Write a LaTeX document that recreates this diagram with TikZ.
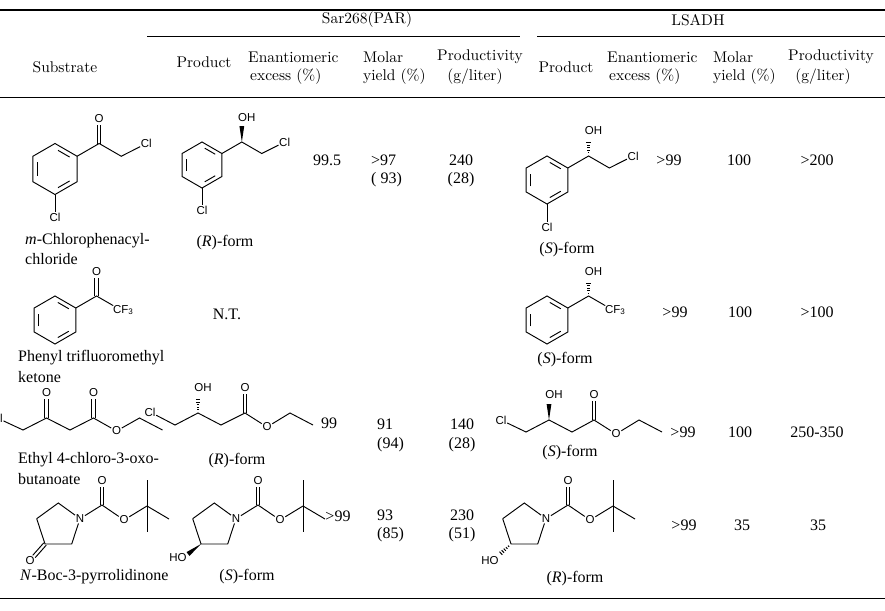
\documentclass[tikz,border=0pt]{standalone}
\usepackage{fontspec}
\newfontfamily\chemf{Liberation Sans}
\newfontfamily\timesf{Liberation Serif}
\newfontfamily\hdf{lmroman10-regular}[Extension=.otf]
\usetikzlibrary{calc}
\newcommand\benz[4]{%
 \coordinate (#1c) at (#2,#3);
 \foreach \i/\a in {1/-90,2/-30,3/30,4/90,5/150,6/210}{\coordinate (#1\i) at ($(#1c)+(\a:#4)$);}
 \draw[bond] (#11)--(#12)--(#13)--(#14)--(#15)--(#16)--cycle;
 \foreach \p/\q in {1/2,3/4,5/6}{%
   \coordinate (bza) at ($(#1\p)!.17!(#1\q)$);
   \coordinate (bzb) at ($(#1\q)!.17!(#1\p)$);
   \draw[bond] ($(bza)!.2!(#1c)$) -- ($(bzb)!.2!(#1c)$);}
}
\newcommand\dblb[2]{%
 \coordinate (dbe) at ($(#2)!6pt!(#1)$);
 \draw[bond] ($(#1)!1.7pt!90:(dbe)$) -- ($(dbe)!1.7pt!-90:(#1)$);
 \draw[bond] ($(#1)!1.7pt!-90:(dbe)$) -- ($(dbe)!1.7pt!90:(#1)$);}
\newcommand\wedgeb[2]{\fill ($(#2)!2.4pt!90:(#1)$) -- (#1) -- ($(#2)!2.4pt!-90:(#1)$) -- cycle;}
\newcommand\hashb[2]{%
 \foreach \t in {0.2,0.36,0.52,0.68,0.84,1.0}{%
   \pgfmathsetmacro\hw{0.4+2.0*\t}
   \coordinate (hbp) at ($(#1)!\t!(#2)$);
   \draw[line width=1pt] ($(hbp)!\hw pt!90:(#2)$) -- ($(hbp)!\hw pt!-90:(#2)$);}}
\tikzset{
 bond/.style={line width=0.95pt},
 atom/.style={font=\chemf\fontsize{11.5}{13}\selectfont, inner sep=0.6pt},
 txt/.style={font=\timesf\fontsize{16}{18}\selectfont, inner sep=0pt},
 hd/.style={font=\hdf\fontsize{15.5}{20}\selectfont, inner sep=0pt},
 rl/.style={line width=1pt},
}
\begin{document}
\begin{tikzpicture}[x=1pt,y=-1pt]
\useasboundingbox[fill=white] (0,0) rectangle (885,610);
% ---------------- header ----------------
\draw[line width=1.2pt] (0,10) -- (885,10);
\node[hd] (hsar) at (367,20) {Sar268(PAR)};
\node[hd] (hls) at (698,20) {LSADH};
\draw[rl] (147,37) -- (520,37);
\draw[rl] (537,37) -- (885,37);
\node[hd] (hsub) at (65,67) {Substrate};
\node[hd] (hp1) at (204,62) {Product};
\node[hd,anchor=west] (he1) at (248,57) {Enantiomeric};
\node[hd,anchor=west] (he1b) at (250,77) {excess (\%)};
\node[hd,anchor=west] (hm1) at (363,57) {Molar};
\node[hd,anchor=west] (hm1b) at (363,77) {yield (\%)};
\node[hd] (hq1) at (480,57) {Productivity};
\node[hd] (hq1b) at (475,77) {(g/liter)};
\node[hd] (hp2) at (566,67) {Product};
\node[hd,anchor=west] (he2) at (607,57) {Enantiomeric};
\node[hd,anchor=west] (he2b) at (609,77) {excess (\%)};
\node[hd,anchor=west] (hm2) at (713,57) {Molar};
\node[hd,anchor=west] (hm2b) at (713,77) {yield (\%)};
\node[hd] (hq2) at (831,57) {Productivity};
\node[hd] (hq2b) at (823,77) {(g/liter)};
\draw[rl] (0,97) -- (885,97);
\draw[rl] (0,598) -- (885,598);
% ---------------- row 1 ----------------
\benz{A}{55}{169}{25.5}
\coordinate (a7) at ($(A2)+(-30:25.5)$);
\coordinate (a8) at ($(a7)+(30:25.5)$);
\node[atom] (aO) at ($(a7)+(0,-25)$) {O};
\node[atom] (aCl) at ($(a8)+(-30:25.5)+(3,0)$) {Cl};
\node[atom] (aCl2) at ($(A4)+(0,23)$) {Cl};
\dblb{a7}{aO}
\draw[bond] (A2) -- (a7) -- (a8) -- (aCl);
\draw[bond] (A4) -- (aCl2);
\node[txt,anchor=west] (t1a) at (25,241) {\textit{m}-Chlorophenacyl-};
\node[txt,anchor=west] (t1b) at (25,259) {chloride};
% Sar product (R)
\benz{B}{202}{165}{23}
\coordinate (b7) at ($(B2)+(-30:23)$);
\coordinate (b8) at ($(b7)+(30:23)$);
\coordinate (bw) at ($(b7)+(0,-16)$);
\node[atom] (bOH) at ($(b7)+(5,-24)$) {OH};
\node[atom] (bCl) at ($(b8)+(-30:23)+(3,0)$) {Cl};
\node[atom] (bCl2) at ($(B4)+(0,22)$) {Cl};
\draw[bond] (B2) -- (b7) -- (b8) -- (bCl);
\draw[bond] (B4) -- (bCl2);
\wedgeb{b7}{bw}
\node[txt] (f1a) at (225,243) {(\textit{R})-form};
% LSADH product (S)
\benz{C}{547}{180}{24}
\coordinate (c7) at ($(C2)+(-30:24)$);
\coordinate (c8) at ($(c7)+(30:24)$);
\coordinate (cw) at ($(c7)+(0,-16)$);
\node[atom] (cOH) at ($(c7)+(5,-25)$) {OH};
\node[atom] (cCl) at ($(c8)+(-30:24)+(3,0)$) {Cl};
\node[atom] (cCl2) at ($(C4)+(0,23)$) {Cl};
\draw[bond] (C2) -- (c7) -- (c8) -- (cCl);
\draw[bond] (C4) -- (cCl2);
\hashb{c7}{cw}
\node[txt] (f1b) at (567,250) {(\textit{S})-form};
% numbers row 1
\node[txt] (n11) at (327,160) {99.5};
\node[txt,anchor=west] (n12) at (371,160) {>97};
\node[txt,anchor=west] (n12b) at (371,180) {( 93)};
\node[txt] (n13) at (461,160) {240};
\node[txt] (n13b) at (461,180) {(28)};
\node[txt] (n14) at (669,160) {>99};
\node[txt] (n15) at (739,160) {100};
\node[txt] (n16) at (817,160) {>200};
% ---------------- row 2 ----------------
\benz{D}{55}{320}{24}
\coordinate (d7) at ($(D2)+(-30:24)$);
\coordinate (d8) at ($(d7)+(30:24)$);
\node[atom] (dO) at ($(d7)+(0,-24)$) {O};
\node[atom,anchor=west] (dCF) at ($(d8)+(-5,2)$) {CF\textsubscript{3}};
\dblb{d7}{dO}
\draw[bond] (D2) -- (d7) -- ($(d7)!.8!(d8)$);
\node[txt,anchor=west] (t2a) at (18,358) {Phenyl trifluoromethyl};
\node[txt,anchor=west] (t2b) at (18,377) {ketone};
\node[txt] (nt) at (227,314) {N.T.};
\benz{E}{547}{320}{24}
\coordinate (e7) at ($(E2)+(-30:24)$);
\coordinate (e8) at ($(e7)+(30:24)$);
\coordinate (ew) at ($(e7)+(0,-15)$);
\node[atom] (eOH) at ($(e7)+(5,-24)$) {OH};
\node[atom,anchor=west] (eCF) at ($(e8)+(-5,2)$) {CF\textsubscript{3}};
\draw[bond] (E2) -- (e7) -- ($(e7)!.8!(e8)$);
\hashb{e7}{ew}
\node[txt] (f2b) at (565,360) {(\textit{S})-form};
\node[txt] (n24) at (675,312) {>99};
\node[txt] (n25) at (740,312) {100};
\node[txt] (n26) at (817,312) {>100};
% ---------------- row 3 ----------------
\node[atom,anchor=east] (gCl0) at (3.5,418) {Cl};
\coordinate (g2) at (23,430);
\coordinate (g3) at (46.5,418);
\coordinate (g4) at (70,430);
\coordinate (g5) at (93.5,418);
\coordinate (g7) at (139.5,418);
\coordinate (g8) at (162.5,430);
\node[atom] (gO3) at (46.5,393) {O};
\node[atom] (gO5) at (93.5,393) {O};
\node[atom] (gOe) at (116.5,431) {O};
\dblb{g3}{gO3}
\dblb{g5}{gO5}
\draw[bond] (gCl0) -- (g2) -- (g3) -- (g4) -- (g5) -- (gOe) -- (g7) -- (g8);
\node[txt,anchor=west] (t3a) at (18,460) {Ethyl 4-chloro-3-oxo-};
\node[txt,anchor=west] (t3b) at (18,479) {butanoate};
% Sar product (R)
\node[atom] (kCl) at (150,412) {Cl};
\coordinate (k2) at (175,425);
\coordinate (k3) at (198,413);
\coordinate (kw) at (198,397);
\coordinate (k4) at (221,425);
\coordinate (k5) at (245,413);
\coordinate (k7) at (290,413);
\coordinate (k8) at (313,425);
\node[atom] (kOH) at (203,388) {OH};
\node[atom] (kO5) at (245,388) {O};
\node[atom] (kOe) at (267,427) {O};
\dblb{k5}{kO5}
\draw[bond] (kCl) -- (k2) -- (k3) -- (k4) -- (k5) -- (kOe) -- (k7) -- (k8);
\hashb{k3}{kw}
\node[txt] (f3a) at (237,461) {(\textit{R})-form};
% LSADH product (S)
\node[atom] (mCl) at (501,420) {Cl};
\coordinate (m2) at (526,432);
\coordinate (m3) at (549,420);
\coordinate (mw) at (549,404);
\coordinate (m4) at (572,432);
\coordinate (m5) at (594,420);
\coordinate (m7) at (639,420);
\coordinate (m8) at (662,432);
\node[atom] (mOH) at (554,395) {OH};
\node[atom] (mO5) at (594,395) {O};
\node[atom] (mOe) at (616,434) {O};
\dblb{m5}{mO5}
\draw[bond] (mCl) -- (m2) -- (m3) -- (m4) -- (m5) -- (mOe) -- (m7) -- (m8);
\wedgeb{m3}{mw}
\node[txt] (f3b) at (570,453) {(\textit{S})-form};
% numbers row 3
\node[txt] (n31) at (329,423) {99};
\node[txt,anchor=west] (n32) at (377,424) {91};
\node[txt,anchor=west] (n32b) at (377,445) {(94)};
\node[txt] (n33) at (462,424) {140};
\node[txt] (n33b) at (462,445) {(28)};
\node[txt] (n34) at (683,432) {>99};
\node[txt] (n35) at (740,432) {100};
\node[txt] (n36) at (817,432) {250-350};
% ---------------- row 4 ----------------
% substrate
\coordinate (p1) at (45,544);
\coordinate (p2) at (71.7,544);
\coordinate (p4) at (58.3,503);
\coordinate (p5) at (36.7,518.7);
\node[atom] (pN) at (80,518.7) {N};
\node[atom] (pO) at (30,561) {O};
\coordinate (q1) at (102,505);
\node[atom] (qO) at (102,481) {O};
\node[atom] (qOe) at (124,520) {O};
\coordinate (q3) at (147,506);
\coordinate (q4) at (147,480);
\coordinate (q5) at (147,532);
\coordinate (q6) at (169,519);
\dblb{p1}{pO}
\dblb{q1}{qO}
\draw[bond] (p5) -- (p4) -- (pN) -- (p2) -- (p1) -- (p5);
\draw[bond] (pN) -- (q1) -- (qOe) -- (q3);
\draw[bond] (q4) -- (q5);
\draw[bond] (q3) -- (q6);
\node[txt,anchor=west] (t4a) at (20,577) {\textit{N}-Boc-3-pyrrolidinone};
% Sar product (S)
\coordinate (r1) at (201,544);
\coordinate (r2) at (227.7,544);
\coordinate (r4) at (214.3,503);
\coordinate (r5) at (192.7,518.7);
\node[atom] (rN) at (236,518.7) {N};
\node[atom] (rHO) at (178,558) {HO};
\coordinate (rw) at (188,554);
\coordinate (s1) at (258,505);
\node[atom] (sO) at (258,481) {O};
\node[atom] (sOe) at (280,520) {O};
\coordinate (s3) at (303,506);
\coordinate (s4) at (303,480);
\coordinate (s5) at (303,532);
\coordinate (s6) at (325,519);
\dblb{s1}{sO}
\draw[bond] (r5) -- (r4) -- (rN) -- (r2) -- (r1) -- (r5);
\draw[bond] (rN) -- (s1) -- (sOe) -- (s3);
\draw[bond] (s4) -- (s5);
\draw[bond] (s3) -- (s6);
\wedgeb{r1}{rw}
\node[txt] (f4a) at (247,577) {(\textit{S})-form};
% LSADH product (R)
\coordinate (u1) at (511,544);
\coordinate (u2) at (537.7,544);
\coordinate (u4) at (524.3,503);
\coordinate (u5) at (502.7,518.7);
\node[atom] (uN) at (546,518.7) {N};
\node[atom] (uHO) at (490,561) {HO};
\coordinate (uw) at (499,555);
\coordinate (v1) at (568,505);
\node[atom] (vO) at (568,481) {O};
\node[atom] (vOe) at (590,520) {O};
\coordinate (v3) at (613,506);
\coordinate (v4) at (613,480);
\coordinate (v5) at (613,532);
\coordinate (v6) at (635,519);
\dblb{v1}{vO}
\draw[bond] (u5) -- (u4) -- (uN) -- (u2) -- (u1) -- (u5);
\draw[bond] (uN) -- (v1) -- (vOe) -- (v3);
\draw[bond] (v4) -- (v5);
\draw[bond] (v3) -- (v6);
\hashb{u1}{uw}
\node[txt] (f4b) at (575,579) {(\textit{R})-form};
% numbers row 4
\node[txt] (n41) at (338,516) {>99};
\node[txt,anchor=west] (n42) at (377,515) {93};
\node[txt,anchor=west] (n42b) at (377,535) {(85)};
\node[txt] (n43) at (462,515) {230};
\node[txt] (n43b) at (462,535) {(51)};
\node[txt] (n44) at (684,525) {>99};
\node[txt] (n45) at (742,525) {35};
\node[txt] (n46) at (818,525) {35};
\end{tikzpicture}
\end{document}
